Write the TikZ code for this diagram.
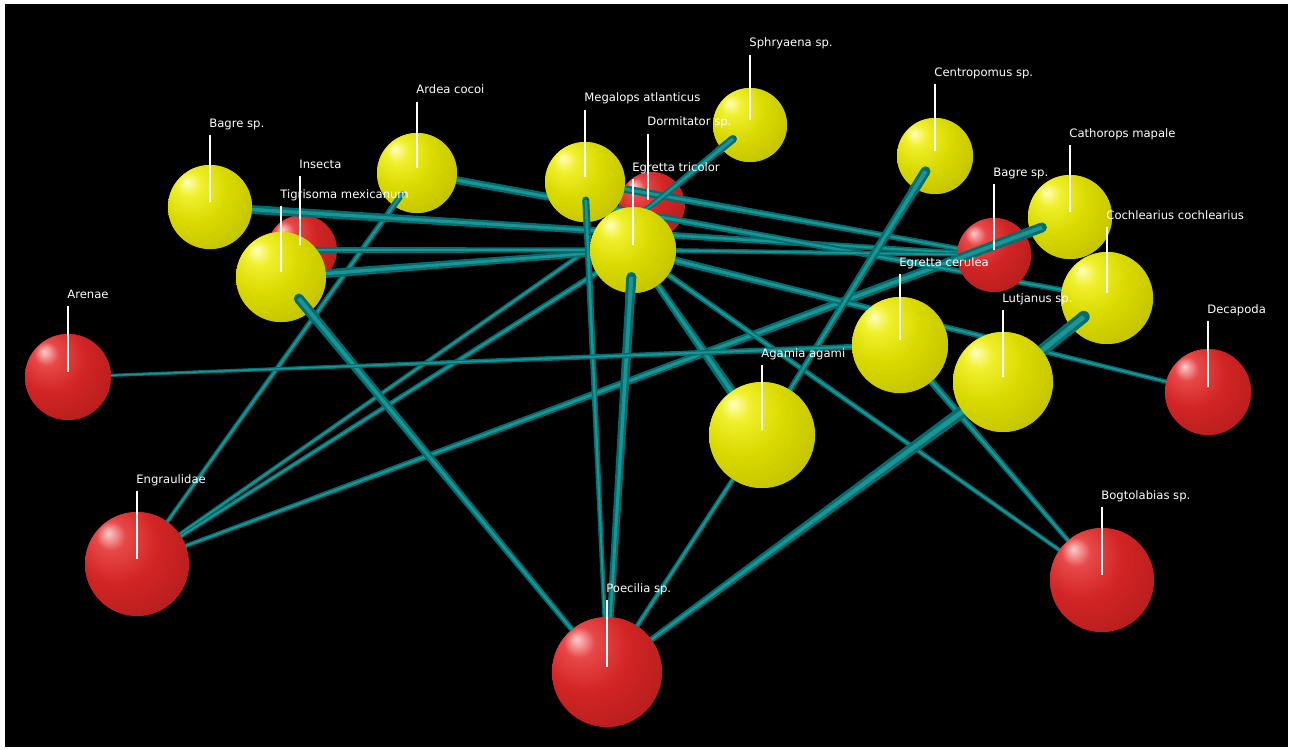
\documentclass[tikz,border=0pt]{standalone}
\usepackage{fontspec}
\setmainfont{DejaVu Sans}
\usetikzlibrary{calc}
\definecolor{Ya}{RGB}{255,255,190}
\definecolor{Yb}{RGB}{240,240,45}
\definecolor{Yc}{RGB}{218,218,0}
\definecolor{Yd}{RGB}{182,182,0}
\definecolor{Ye}{RGB}{130,130,0}
\definecolor{Ra}{RGB}{255,205,205}
\definecolor{Rb}{RGB}{232,72,72}
\definecolor{Rc}{RGB}{210,36,36}
\definecolor{Rd}{RGB}{168,26,26}
\definecolor{Re}{RGB}{112,14,14}
\definecolor{tubeA}{RGB}{0,110,112}
\definecolor{tubeB}{RGB}{28,148,148}
\pgfdeclareradialshading{yball}{\pgfpoint{-14bp}{15bp}}{color(0bp)=(Ya); color(7bp)=(Yb); color(20bp)=(Yc); color(45bp)=(Yd); color(70bp)=(Ye)}
\pgfdeclareradialshading{rball}{\pgfpoint{-14bp}{15bp}}{color(0bp)=(Ra); color(7bp)=(Rb); color(20bp)=(Rc); color(45bp)=(Rd); color(70bp)=(Re)}
\tikzset{
  ball/.style={circle, inner sep=0pt, outer sep=0pt, minimum size=#1, shade},
  yb/.style={ball=#1, shading=yball},
  rb/.style={ball=#1, shading=rball},
  lab/.style={anchor=base west, inner sep=0pt, text=white, font=\fontsize{5.8}{6}\selectfont},
  leader/.style={draw=white, line width=0.6pt}
}
% tapered tube between two named points, widths in px
\newcommand\tube[4]{%
  \fill[tubeA] ($(#1)!#3*0.25pt!90:(#2)$) -- ($(#1)!#3*0.25pt!-90:(#2)$) -- ($(#2)!#4*0.25pt!90:(#1)$) -- ($(#2)!#4*0.25pt!-90:(#1)$) -- cycle;
  \fill[tubeB] ($(#1)!#3*0.1pt!90:(#2)$) -- ($(#1)!#3*0.1pt!-90:(#2)$) -- ($(#2)!#4*0.1pt!90:(#1)$) -- ($(#2)!#4*0.1pt!-90:(#1)$) -- cycle;}
% visible part of a tube in front of a sphere
\newcommand\stub[6]{%
  \coordinate (sA) at ($(#1)!#3*0.5pt!(#2)$);
  \coordinate (sB) at ($(#1)!#4*0.5pt!(#2)$);
  \fill[tubeA] (sA) circle[radius=#5*0.25pt];
  \tube{sA}{sB}{#5}{#6}}
\newcommand\sptag[4]{%
  \node[lab] (lbl#1) at (#2,#3+4) {#4};
  \draw[leader] let \p1=(lbl#1.base west), \p2=(#1.center) in
    (\x1+0.5pt,\y1-4pt) -- (\x1+0.5pt,\y2+2.5pt);}
\begin{document}
\begin{tikzpicture}[x=0.5pt,y=-0.5pt]
\useasboundingbox (0,0) rectangle (1299,749);
\fill[white] (0,0) rectangle (1299,749);
\fill[black] (5,4) rectangle (1288,747);

% spheres far behind
\node[rb=33pt] (dormi) at (652,205) {};
\node[rb=35pt] (insecta) at (302,250) {};
% the remaining spheres (drawn again in front of the tubes)
\node[yb=42pt] (bagreL) at (210,207) {};
\node[yb=40pt] (ardea) at (417,173) {};
\node[yb=45pt] (tigri) at (281,277) {};
\node[yb=40pt] (megalops) at (585,182) {};
\node[yb=37pt] (sphy) at (750,125) {};
\node[yb=43pt] (etric) at (633,250) {};
\node[yb=38pt] (centro) at (935,156) {};
\node[yb=42pt] (cathor) at (1070,217) {};
\node[rb=37pt] (bagreR) at (994,255) {};
\node[yb=46pt] (cochle) at (1107,298) {};
\node[yb=48pt] (ecer) at (900,345) {};
\node[yb=50pt] (lutj) at (1003,382) {};
\node[rb=43pt] (decap) at (1208,392) {};
\node[yb=53pt] (agamia) at (762,435) {};
\node[rb=43pt] (arenae) at (68,377) {};
\node[rb=52pt] (engr) at (137,564) {};
\node[rb=55pt] (poec) at (607,672) {};
\node[rb=52pt] (detr) at (1102,580) {};

% tubes
\tube{engr}{ardea}{4}{6}
\tube{engr}{dormi}{4}{5}
\tube{engr}{etric}{4}{6}
\tube{engr}{cathor}{4}{10}
\tube{tigri}{poec}{10}{5}
\tube{tigri}{etric}{9}{6}
\tube{insecta}{etric}{6}{5}
\tube{bagreL}{bagreR}{9}{5}
\tube{ardea}{cochle}{8}{5}
\tube{megalops}{bagreR}{8}{5}
\tube{etric}{bagreR}{5}{4}
\tube{megalops}{poec}{7}{4}
\tube{etric}{poec}{10}{6}
\tube{etric}{agamia}{6}{11}
\tube{etric}{decap}{8}{4}
\tube{etric}{detr}{6}{4}
\tube{ecer}{detr}{8}{4}
\tube{agamia}{centro}{5}{10}
\tube{agamia}{poec}{5}{5}
\tube{lutj}{poec}{13}{5}
\tube{lutj}{cochle}{12}{12}
\tube{arenae}{ecer}{3}{6}
\tube{sphy}{dormi}{8}{6}

% spheres in front of the tubes
\node[rb=37pt] at (bagreR) {};
\node[yb=37pt] at (sphy) {};
\node[yb=38pt] at (centro) {};
\node[yb=40pt] at (ardea) {};
\node[yb=42pt] at (bagreL) {};
\node[yb=40pt] at (megalops) {};
\node[yb=43pt] at (etric) {};
\node[yb=45pt] at (tigri) {};
\node[yb=42pt] at (cathor) {};
\node[yb=46pt] at (cochle) {};
\node[yb=48pt] at (ecer) {};
\node[yb=50pt] at (lutj) {};
\node[rb=43pt] at (decap) {};
\node[yb=53pt] at (agamia) {};
\node[rb=43pt] at (arenae) {};
\node[rb=52pt] at (engr) {};
\node[rb=55pt] at (poec) {};
\node[rb=52pt] at (detr) {};

% tube parts coming out of the front of spheres
\stub{tigri}{poec}{28}{55}{10}{10}
\stub{ardea}{engr}{26}{48}{6}{6}
\stub{sphy}{dormi}{22}{42}{8}{8}
\stub{centro}{agamia}{18}{42}{10}{10}
\stub{etric}{poec}{27}{48}{10}{10}
\stub{megalops}{poec}{18}{44}{7}{7}
\stub{cathor}{engr}{30}{125}{10}{9}
\stub{cochle}{lutj}{30}{52}{12}{12}

% labels with leaders
\sptag{bagreL}{209}{123}{Bagre sp.}
\sptag{ardea}{416}{90}{Ardea cocoi}
\sptag{insecta}{299}{164}{Insecta}
\sptag{tigri}{280}{194}{Tigrisoma mexicanum}
\sptag{megalops}{584}{98}{Megalops atlanticus}
\sptag{sphy}{749}{43}{Sphryaena sp.}
\sptag{dormi}{647}{122}{Dormitator sp.}
\sptag{etric}{632}{167}{Egretta tricolor}
\sptag{centro}{934}{72}{Centropomus sp.}
\sptag{cathor}{1069}{133}{Cathorops mapale}
\sptag{bagreR}{993}{172}{Bagre sp.}
\sptag{cochle}{1106}{215}{Cochlearius cochlearius}
\sptag{ecer}{899}{262}{Egretta cerulea}
\sptag{lutj}{1002}{298}{Lutjanus sp.}
\sptag{decap}{1207}{309}{Decapoda}
\sptag{agamia}{761}{353}{Agamia agami}
\sptag{arenae}{67}{294}{Arenae}
\sptag{engr}{136}{479}{Engraulidae}
\sptag{poec}{606}{588}{Poecilia sp.}
\sptag{detr}{1101}{495}{Bogtolabias sp.}
\end{tikzpicture}
\end{document}
